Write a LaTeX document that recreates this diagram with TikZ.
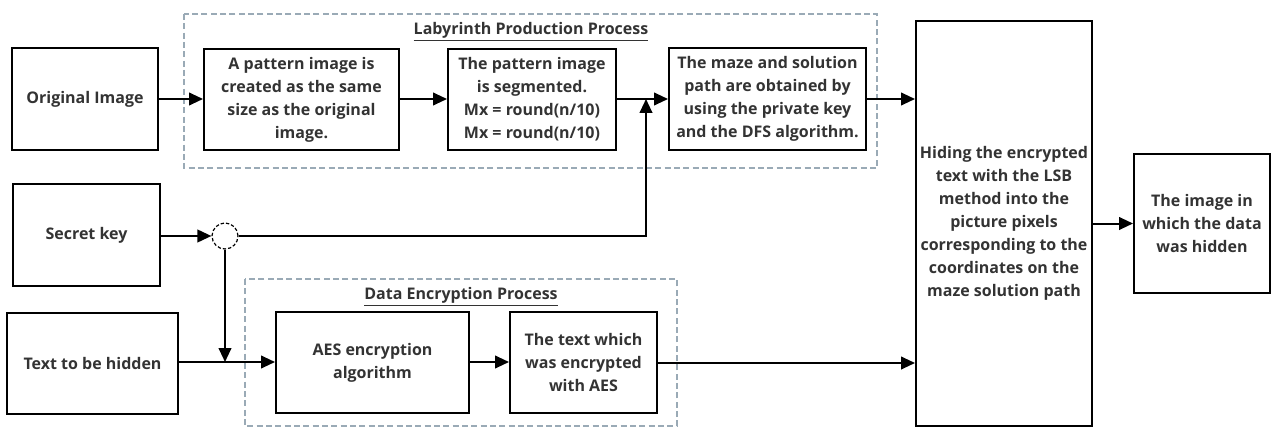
\documentclass[tikz,border=0pt]{standalone}
\usepackage{fontspec}
\setmainfont{Open Sans}
\usetikzlibrary{arrows.meta}
\definecolor{txt}{HTML}{333333}
\definecolor{dashc}{HTML}{9AAAB6}
\tikzset{
  box/.style={draw=black, line width=1.5pt, inner sep=0pt, align=center, text=txt,
    font=\fontsize{12pt}{17.25pt}\selectfont\bfseries},
  conn/.style={line width=1.5pt, -{Triangle[length=10.5pt,width=9.5pt]}},
  grp/.style={draw=dashc, line width=1.5pt, dash pattern=on 4.5pt off 2.5pt},
  grptitle/.style={text=txt, font=\fontsize{12pt}{14pt}\selectfont\bfseries, inner sep=0pt},
  junc/.style={circle, draw=black, line width=0.9pt, dash pattern=on 2.5pt off 1.5pt, minimum size=19.5pt, inner sep=0pt}
}
\begin{document}
\begin{tikzpicture}[x=0.75pt,y=-0.75pt]
\useasboundingbox (0,0) rectangle (1272,428);
% groups
\draw[grp] (184,14) rectangle (877,168);
\draw[grp] (245,279) rectangle (677,426);
\node[grptitle] (t1) at (531,32) {\underline{Labyrinth Production Process}};
\node[grptitle] (t2) at (461,297) {\underline{Data Encryption Process}};
% nodes
\node[box, minimum width=109.5pt, minimum height=76.5pt] (orig) at (85,99) {Original Image};
\node[box, minimum width=146.25pt, minimum height=75.75pt] (pat) at (301.5,99.5) {A pattern image is\\created as the same\\size as the original\\image.};
\node[box, minimum width=126pt, minimum height=75.75pt] (seg) at (532,99.5) {The pattern image\\is segmented.\\Mx = round(n/10)\\Mx = round(n/10)};
\node[box, minimum width=147.75pt, minimum height=76.5pt] (maze) at (767.5,99) {The maze and solution\\path are obtained by\\using the private key\\and the DFS algorithm.};
\node[box, minimum width=132pt, minimum height=303.75pt] (big) at (1004,223.5) {Hiding the encrypted\\text with the LSB\\method into the\\picture pixels\\corresponding to the\\coordinates on the\\maze solution path};
\node[box, minimum width=102pt, minimum height=104.25pt] (out) at (1202,223.5) {The image in\\which the data\\was hidden};
\node[box, minimum width=110.25pt, minimum height=76.5pt] (sec) at (86.5,235) {Secret key};
\node[junc] (j) at (225,236) {};
\node[box, minimum width=128.25pt, minimum height=75.75pt] (hid) at (92.5,363.5) {Text to be hidden};
\node[box, minimum width=144.75pt, minimum height=75.75pt] (aes) at (372.5,362.5) {AES encryption\\algorithm};
\node[box, minimum width=110.25pt, minimum height=75.75pt] (enc) at (583.5,362.5) {The text which\\was encrypted\\with AES};
% helper coordinates
\coordinate (m) at (646,99);
\coordinate (mk) at (646,236);
\coordinate (h) at (225,362);
% connectors
\draw[conn] (orig.east |- 0,99) -- (pat.west |- 0,99);
\draw[conn] (pat.east |- 0,99) -- (seg.west |- 0,99);
\draw[conn] (seg.east |- 0,99) -- (maze.west |- 0,99);
\draw[conn] (maze.east |- 0,99) -- (big.west |- 0,99);
\draw[conn] (sec.east |- j) -- (j.west);
\draw[conn] (j.east) -- (mk) -- (m);
\draw[conn] (j.south) -- (h);
\draw[conn] (hid.east |- h) -- (aes.west |- h);
\draw[conn] (aes.east |- h) -- (enc.west |- h);
\draw[conn] (enc.east |- 0,363) -- (big.west |- 0,363);
\draw[conn] (big.east |- out) -- (out.west);
\end{tikzpicture}
\end{document}
